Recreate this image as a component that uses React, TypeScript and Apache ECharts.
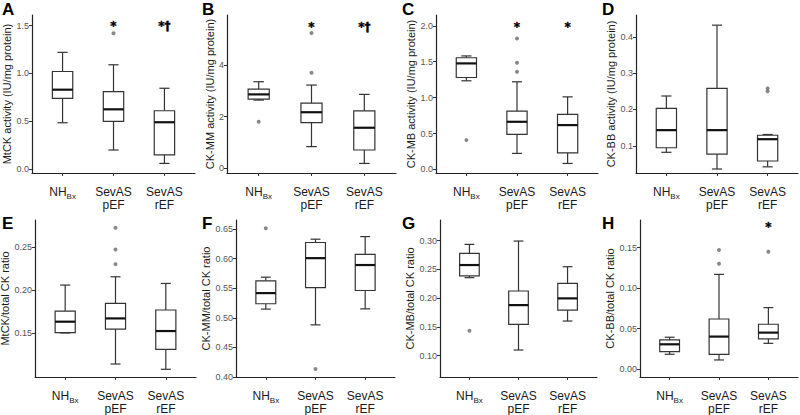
import React, { useEffect, useRef } from "react";
import * as echarts from "echarts";

// ---------- data ----------
const categories = ["NH", "SevAS pEF", "SevAS rEF"];
const categorySub = ["Bx", "", ""];

// box stats: [lower whisker, Q1, median, Q3, upper whisker]
// A: MtCK activity
const mtckBox = [
  [0.485, 0.74, 0.83, 1.02, 1.22],
  [0.2, 0.5, 0.625, 0.81, 1.09],
  [0.06, 0.15, 0.49, 0.61, 0.845],
];
const mtckOut = [[2, 1.42]];
const mtckSig = [[2, 1.49, "*"], [3, 1.49, "*†"]];
const mtckTicks = [0, 0.5, 1.0, 1.5];

// B: CK-MM activity
const ckmmBox = [
  [2.64, 2.68, 2.86, 3.06, 3.35],
  [0.84, 1.77, 2.17, 2.52, 3.22],
  [0.19, 0.71, 1.57, 2.22, 2.86],
];
const ckmmOut = [[1, 1.8], [2, 5.23], [2, 3.7]];
const ckmmSig = [[2, 5.47, "*"], [3, 5.47, "*†"]];
const ckmmTicks = [0, 2, 4];

// C: CK-MB activity
const ckmbBox = [
  [1.234, 1.28, 1.476, 1.555, 1.58],
  [0.223, 0.487, 0.663, 0.812, 1.22],
  [0.083, 0.231, 0.617, 0.766, 1.01],
];
const ckmbOut = [[1, 0.408], [2, 1.824], [2, 1.486], [2, 1.36]];
const ckmbSig = [[2, 1.98, "*"], [3, 1.98, "*"]];
const ckmbTicks = [0, 0.5, 1.0, 1.5, 2.0];

// D: CK-BB activity
const ckbbBox = [
  [0.082, 0.0945, 0.143, 0.203, 0.237],
  [0.036, 0.077, 0.143, 0.258, 0.432],
  [0.042, 0.058, 0.118, 0.129, 0.131],
];
const ckbbOut = [[3, 0.25], [3, 0.258]];
const ckbbSig: (number | string)[][] = [];
const ckbbTicks = [0.1, 0.2, 0.3, 0.4];

// E: MtCK/total CK ratio
const mtckRatioBox = [
  [0.1505, 0.1508, 0.1635, 0.1758, 0.2058],
  [0.1146, 0.155, 0.1673, 0.1846, 0.2154],
  [0.1085, 0.1315, 0.1527, 0.177, 0.2077],
];
const mtckRatioOut = [[2, 0.272], [2, 0.247], [2, 0.23]];
const mtckRatioSig: (number | string)[][] = [];
const mtckRatioTicks = [0.15, 0.2, 0.25];

// F: CK-MM/total CK ratio
const ckmmRatioBox = [
  [0.5146, 0.5236, 0.5416, 0.5624, 0.5685],
  [0.488, 0.551, 0.6006, 0.627, 0.6326],
  [0.515, 0.546, 0.589, 0.607, 0.637],
];
const ckmmRatioOut = [[1, 0.651], [2, 0.4135]];
const ckmmRatioSig: (number | string)[][] = [];
const ckmmRatioTicks = [0.4, 0.45, 0.5, 0.55, 0.6, 0.65];

// G: CK-MB/total CK ratio
const ckmbRatioBox = [
  [0.2357, 0.239, 0.2577, 0.278, 0.2936],
  [0.1099, 0.1545, 0.188, 0.2125, 0.2994],
  [0.1603, 0.1794, 0.1997, 0.2258, 0.2548],
];
const ckmbRatioOut = [[1, 0.1435]];
const ckmbRatioSig: (number | string)[][] = [];
const ckmbRatioTicks = [0.1, 0.15, 0.2, 0.25, 0.3];

// H: CK-BB/total CK ratio
const ckbbRatioBox = [
  [0.0185, 0.0218, 0.0308, 0.0362, 0.0395],
  [0.0115, 0.0185, 0.0403, 0.062, 0.117],
  [0.032, 0.0374, 0.0452, 0.0555, 0.076],
];
const ckbbRatioOut = [[2, 0.147], [2, 0.13], [3, 0.145]];
const ckbbRatioSig = [[3, 0.1755, "*"]];
const ckbbRatioTicks = [0, 0.05, 0.1, 0.15];

// ---------- layout ----------
const panels = [
  { letter: "A", title: "MtCK activity (IU/mg protein)", box: mtckBox, out: mtckOut, sig: mtckSig, ticks: mtckTicks, dec: 1, min: -0.04, max: 1.61, g: [32, 15, 163, 158], gap: 16 },
  { letter: "B", title: "CK-MM activity (IU/mg protein)", box: ckmmBox, out: ckmmOut, sig: ckmmSig, ticks: ckmmTicks, dec: 0, min: -0.18, max: 5.93, g: [227, 15, 169, 158], gap: 11 },
  { letter: "C", title: "CK-MB activity (IU/mg protein)", box: ckmbBox, out: ckmbOut, sig: ckmbSig, ticks: ckmbTicks, dec: 1, min: -0.05, max: 2.15, g: [436, 15, 162, 158], gap: 18 },
  { letter: "D", title: "CK-BB activity (IU/mg protein)", box: ckbbBox, out: ckbbOut, sig: ckbbSig, ticks: ckbbTicks, dec: 1, min: 0.025, max: 0.46, g: [636, 15, 162, 158], gap: 19 },
  { letter: "E", title: "MtCK/total CK ratio", box: mtckRatioBox, out: mtckRatioOut, sig: mtckRatioSig, ticks: mtckRatioTicks, dec: 2, min: 0.0996, max: 0.281, g: [35, 220, 161, 157], gap: 20 },
  { letter: "F", title: "CK-MM/total CK ratio", box: ckmmRatioBox, out: ckmmRatioOut, sig: ckmmRatioSig, ticks: ckmmRatioTicks, dec: 2, min: 0.4, max: 0.665, g: [236, 220, 159, 157], gap: 18 },
  { letter: "G", title: "CK-MB/total CK ratio", box: ckmbRatioBox, out: ckmbRatioOut, sig: ckmbRatioSig, ticks: ckmbRatioTicks, dec: 2, min: 0.063, max: 0.336, g: [440, 220, 157, 157], gap: 22 },
  { letter: "H", title: "CK-BB/total CK ratio", box: ckbbRatioBox, out: ckbbRatioOut, sig: ckbbRatioSig, ticks: ckbbRatioTicks, dec: 2, min: -0.0095, max: 0.184, g: [640, 220, 158, 157], gap: 21 },
];
const letterPos = [[2, 1], [202, 1], [402, 1], [602, 1], [2, 215], [202, 215], [402, 215], [602, 215]];

const FONT = "'Liberation Sans', Arial, Helvetica, sans-serif";
const SIG_FONT = "'DejaVu Sans', 'Liberation Sans', sans-serif";
const BOX_W = 0.4;
const CAP_W = 0.2;

function renderBox(params: any, api: any) {
  const x = api.value(0);
  const lo = api.coord([x, api.value(1)]);
  const q1 = api.coord([x, api.value(2)]);
  const md = api.coord([x, api.value(3)]);
  const q3 = api.coord([x, api.value(4)]);
  const hi = api.coord([x, api.value(5)]);
  const cx = lo[0];
  const bw = api.size([BOX_W, 0])[0];
  const cw = api.size([CAP_W, 0])[0];
  const st = { stroke: "#333", lineWidth: 1.2, fill: null };
  return {
    type: "group",
    children: [
      { type: "line", shape: { x1: cx, y1: hi[1], x2: cx, y2: q3[1] }, style: st },
      { type: "line", shape: { x1: cx, y1: q1[1], x2: cx, y2: lo[1] }, style: st },
      { type: "line", shape: { x1: cx - cw / 2, y1: hi[1], x2: cx + cw / 2, y2: hi[1] }, style: st },
      { type: "line", shape: { x1: cx - cw / 2, y1: lo[1], x2: cx + cw / 2, y2: lo[1] }, style: st },
      { type: "rect", shape: { x: cx - bw / 2, y: q3[1], width: bw, height: q1[1] - q3[1] }, style: { fill: "#fff", stroke: "#333", lineWidth: 1.2 } },
      { type: "line", shape: { x1: cx - bw / 2, y1: md[1], x2: cx + bw / 2, y2: md[1] }, style: { stroke: "#111", lineWidth: 2.2 } },
    ],
  };
}

function makeSigRenderer(sig: (number | string)[][]) {
  return (params: any, api: any) => {
    const item = sig[params.dataIndex];
    const pt = api.coord([item[0], item[1]]);
    return {
      type: "text",
      x: pt[0],
      y: pt[1],
      style: {
        text: String(item[2]),
        fill: "#000",
        stroke: "#000",
        lineWidth: 0.4,
        fontSize: 12,
        fontWeight: "bold",
        fontFamily: SIG_FONT,
        align: "center",
        verticalAlign: "middle",
      },
    };
  };
}

function buildOption() {
  const grid: any[] = [];
  const xAxis: any[] = [];
  const yAxis: any[] = [];
  const series: any[] = [];
  panels.forEach((p, i) => {
    grid.push({ left: p.g[0], top: p.g[1], width: p.g[2], height: p.g[3], containLabel: false, outerBoundsMode: "none" });
    xAxis.push({
      type: "value",
      gridIndex: i,
      min: 0.4,
      max: 3.6,
      splitLine: { show: false },
      axisLine: { show: true, onZero: false, lineStyle: { color: "#222", width: 1.2 } },
      axisTick: { show: true, customValues: [1, 2, 3], length: 3, lineStyle: { color: "#333" } },
      axisLabel: {
        show: true,
        customValues: [1, 2, 3],
        margin: 12,
        fontSize: 12,
        lineHeight: 13,
        fontFamily: FONT,
        color: "#1a1a1a",
        formatter: (v: number) => {
          const k = Math.round(v) - 1;
          const sub = categorySub[k];
          if (sub) return `{n|${categories[k]}}{s|${sub}}`;
          return categories[k].replace(" ", "\n");
        },
        rich: {
          n: { fontSize: 12, lineHeight: 13, fontFamily: FONT, color: "#1a1a1a" },
          s: { fontSize: 8, lineHeight: 8, fontFamily: FONT, color: "#1a1a1a", verticalAlign: "bottom", padding: [0, 0, -2, 0] },
        },
      },
    });
    yAxis.push({
      type: "value",
      gridIndex: i,
      min: p.min,
      max: p.max,
      splitLine: { show: false },
      name: p.title,
      nameLocation: "middle",
      nameGap: p.gap,
      nameTextStyle: { fontSize: 11, fontFamily: FONT, color: "#1a1a1a" },
      axisLine: { show: true, onZero: false, lineStyle: { color: "#222", width: 1.2 } },
      axisTick: { show: true, customValues: p.ticks, length: 3, lineStyle: { color: "#333" } },
      axisLabel: {
        show: true,
        customValues: p.ticks,
        margin: 3,
        fontSize: 9,
        fontFamily: FONT,
        color: "#555",
        formatter: (v: number) => v.toFixed(p.dec),
      },
    });
    series.push({
      type: "custom",
      xAxisIndex: i,
      yAxisIndex: i,
      renderItem: renderBox,
      encode: { x: 0, y: [1, 2, 3, 4, 5] },
      data: p.box.map((b, k) => [k + 1, ...b]),
      z: 2,
    });
    series.push({
      type: "scatter",
      xAxisIndex: i,
      yAxisIndex: i,
      symbol: "circle",
      symbolSize: 4,
      itemStyle: { color: "#6a6a6a" },
      data: p.out,
      z: 3,
    });
    if (p.sig.length) {
      series.push({
        type: "custom",
        xAxisIndex: i,
        yAxisIndex: i,
        renderItem: makeSigRenderer(p.sig),
        encode: { x: 0, y: 1 },
        data: p.sig.map((s) => [s[0], s[1]]),
        z: 4,
      });
    }
  });
  const graphic = panels.map((p, i) => ({
    type: "text",
    left: letterPos[i][0],
    top: letterPos[i][1],
    style: { text: p.letter, fontSize: 17, fontWeight: "bold", fontFamily: FONT, fill: "#000" },
  }));
  return { animation: false, backgroundColor: "#fff", grid, xAxis, yAxis, series, graphic };
}

export default function App() {
  const ref = useRef<HTMLDivElement>(null);
  useEffect(() => {
    document.body.style.margin = "0";
    if (!ref.current) return;
    const chart = echarts.init(ref.current, null, { renderer: "svg" });
    chart.setOption(buildOption() as any);
    return () => chart.dispose();
  }, []);
  return <div ref={ref} style={{ width: 800, height: 415 }} />;
}
